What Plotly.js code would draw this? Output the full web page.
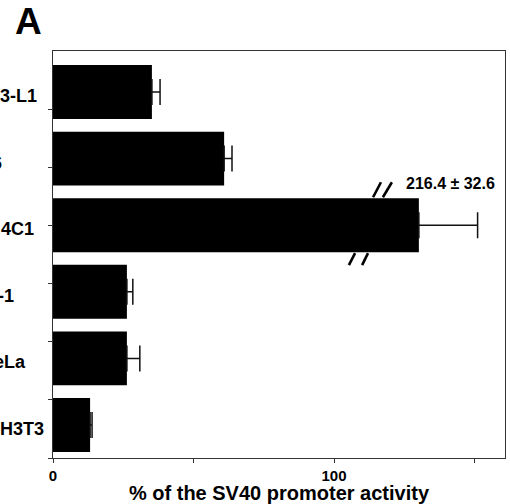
<!DOCTYPE html>
<html>
<head>
<meta charset="utf-8">
<script src="https://cdn.plot.ly/plotly-3.0.1.min.js"></script>
<style>html,body{margin:0;padding:0;background:#fff;} #chart{width:510px;height:504px;}</style>
</head>
<body>
<div id="chart"></div>
<script>
// ---- data ----
const categories = ["3-L1", "6", "4C1", "-1", "eLa", "H3T3"];
// displayed bar lengths (% of SV40 promoter activity); 4C1 bar is drawn truncated (broken axis)
const values = [35.2, 60.9, 130.2, 26.3, 26.3, 13.2];
const errors = [2.9, 2.8, 20.9, 2.1, 4.6, 0.7];
const brokenLabel = "216.4 ± 32.6";
const xTickVals = [0, 50, 100, 150];
const xTickText = ["0", "", "100", ""];

// ---- styling / positions ----
const labelRight = [39, 4, 36, 16, 28, 46]; // visible right edge (px) of the cropped row labels
const plotLeft = 53;
const boldFont = {family: "Liberation Sans, Arial, sans-serif", color: "#000", weight: 700};

const bars = {
  type: "bar",
  orientation: "h",
  y: categories,
  x: values,
  marker: {color: "#000", line: {width: 0}},
  error_x: {type: "data", symmetric: false, array: errors,
            arrayminus: errors.map(() => 0), color: "#111", thickness: 1.5, width: 13},
  hoverinfo: "x+y",
  showlegend: false
};
const dummy = {type: "scatter", x: [], y: [], yaxis: "y2", hoverinfo: "skip", showlegend: false};

const annotations = categories.map((c, i) => ({
  xref: "paper", yref: "y", x: 0, y: i, xanchor: "right", yanchor: "middle",
  xshift: labelRight[i] - plotLeft, yshift: -4,
  text: c, showarrow: false, font: Object.assign({size: 18}, boldFont)
}));
const bi = 2; // broken bar index
annotations.push({
  xref: "x", yref: "y", x: values[bi] - 5.3, y: bi - 0.62, xanchor: "left", yanchor: "middle",
  text: brokenLabel, showarrow: false, font: Object.assign({size: 16}, boldFont)
});
annotations.push({
  xref: "paper", yref: "paper", x: -40 / 452, y: 1 + 7 / 407, xanchor: "left", yanchor: "bottom",
  text: "A", showarrow: false, font: Object.assign({size: 37}, boldFont)
});

// break marks ("//") crossing the truncated bar
const brk = [
  [113.9, bi - 0.42, 116.7, bi - 0.645],
  [117.4, bi - 0.42, 120.6, bi - 0.645],
  [105.3, bi + 0.60, 107.5, bi + 0.42],
  [110.0, bi + 0.60, 112.1, bi + 0.42]
];
const shapes = brk.map(s => ({type: "line", xref: "x", yref: "y",
  x0: s[0], y0: s[1], x1: s[2], y1: s[3], line: {color: "#000", width: 2.6}}));

const layout = {
  width: 510, height: 504,
  margin: {l: plotLeft, r: 5, t: 51, b: 46},
  paper_bgcolor: "#fff", plot_bgcolor: "#fff",
  bargap: 0.19,
  xaxis: {range: [0, 160.85], tickvals: xTickVals, ticktext: xTickText,
          ticks: "outside", ticklen: 4, tickcolor: "#333", tickwidth: 1,
          showline: true, linecolor: "#333", linewidth: 1, mirror: true,
          showgrid: false, zeroline: false,
          tickfont: Object.assign({size: 15}, boldFont),
          title: {text: "% of the SV40 promoter activity", font: Object.assign({size: 20}, boldFont), standoff: 0}},
  yaxis: {type: "category", categoryarray: categories, range: [5.496, -0.616],
          showticklabels: false, ticks: "", showline: true, linecolor: "#333", linewidth: 1,
          mirror: true, showgrid: false, zeroline: false},
  yaxis2: {overlaying: "y", side: "left", range: [0, 7], tickvals: [0, 1, 2, 3, 4, 5, 6],
           ticks: "outside", ticklen: 4, tickcolor: "#333", tickwidth: 1,
           showticklabels: false, showline: false, showgrid: false, zeroline: false},
  annotations: annotations,
  shapes: shapes
};
Plotly.newPlot("chart", [bars, dummy], layout, {displayModeBar: false, staticPlot: true});
</script>
</body>
</html>
